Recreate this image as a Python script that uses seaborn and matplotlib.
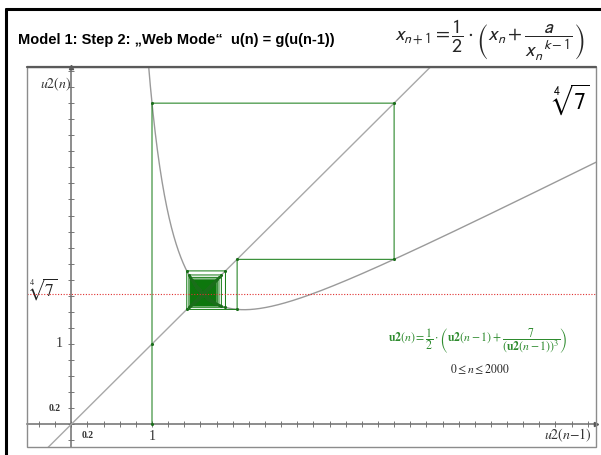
import numpy as np
import pandas as pd
import matplotlib
matplotlib.use("Agg")
import matplotlib.pyplot as plt
from matplotlib.lines import Line2D
from matplotlib.patches import Rectangle
from matplotlib.ticker import MultipleLocator, NullFormatter
import seaborn as sns

sns.set_theme(style="white")
plt.rcParams["font.family"] = ["Liberation Sans", "DejaVu Sans"]

# Iteration u2(n) = 1/2 * (u2(n-1) + a / u2(n-1)^(k-1)), approximating the k-th root of a
radicand = 7
root_k = 4
u_start = 1.0
n_max = 2000

x_range = (-0.549, 6.502)
y_range = (-0.283, 4.450)

x_ticklabels = [0.2, 1]
y_ticklabels = [0.2, 1]


def g(x):
    return 0.5 * (x + radicand / x ** (root_k - 1))


fixed_point = radicand ** (1 / root_k)

# sequence values
u = [u_start]
for _ in range(n_max):
    u.append(g(u[-1]))
u = np.array(u)

# web path: (u0, 0) -> (u0, u0) -> (u0, u1) -> (u1, u1) -> (u1, u2) -> ...
web_x = [u[0], u[0]]
web_y = [0.0, u[0]]
for i in range(1, len(u)):
    web_x += [u[i - 1], u[i]]
    web_y += [u[i], u[i]]
web = pd.DataFrame({"x": web_x, "y": web_y})

curve_x = np.linspace(0.9, 6.7, 800)
curve = pd.DataFrame({"x": curve_x, "y": g(curve_x)})
diag_x = np.array([x_range[0] - 0.1, x_range[1] + 0.1])
diag = pd.DataFrame({"x": diag_x, "y": diag_x})

W, H = 601, 455
fig = plt.figure(figsize=(W / 100, H / 100), dpi=100)
fig.patch.set_facecolor("white")

# slide frame (top and left)
fig.add_artist(Line2D([6 / W, 6 / W], [0, 1 - 9 / H], color="black", lw=2.2, transform=fig.transFigure))
fig.add_artist(Line2D([6 / W, 1], [1 - 9 / H, 1 - 9 / H], color="black", lw=2.2, transform=fig.transFigure))

fig.text(18 / W, 1 - 40 / H, "Model 1: Step 2: \u201eWeb Mode\u201c  u(n) = g(u(n-1))",
         fontsize=10.5, fontweight="bold", va="center", ha="left", color="black")
fig.text(489 / W, 1 - 40 / H,
         r"$x_{n+1}=\dfrac{1}{2}\cdot\left(x_n+\dfrac{a}{x_n^{\ \ k-1}}\right)$",
         fontsize=14.5, ha="center", va="center", math_fontfamily="stixsans")

ax = fig.add_axes([27 / W, (H - 447) / H, 569 / W, 380 / H])
ax.set_xlim(*x_range)
ax.set_ylim(*y_range)
ax.set_facecolor("white")

sns.lineplot(data=curve, x="x", y="y", ax=ax, color="#9a9a9a", lw=1.0, sort=False, estimator=None)
sns.lineplot(data=diag, x="x", y="y", ax=ax, color="#a8a8a8", lw=1.0, sort=False, estimator=None)
sns.lineplot(data=web, x="x", y="y", ax=ax, color="#0d770d", lw=0.7, sort=False, estimator=None)
sns.scatterplot(data=web, x="x", y="y", ax=ax, color="#1a6e1a", s=5, linewidth=0, zorder=4)

ax.axhline(fixed_point, color="#e03030", lw=0.8, ls=(0, (1, 1.5)), zorder=5)

# axes through the origin
for side in ["top", "right"]:
    ax.spines[side].set_visible(False)
ax.spines["left"].set_position(("data", 0))
ax.spines["bottom"].set_position(("data", 0))
for side in ["left", "bottom"]:
    ax.spines[side].set_color("#6e6e6e")
    ax.spines[side].set_linewidth(1.1)
    ax.spines[side].set_zorder(1)
ax.add_patch(Rectangle((0, 0), 1, 1, transform=ax.transAxes, fill=False,
                       edgecolor="#8c8c8c", lw=1.0, zorder=6, clip_on=False))
ax.plot([0, 1], [1, 1], transform=ax.transAxes, color="#5a5a5a", lw=1.6, clip_on=False, zorder=6)

ax.xaxis.set_major_locator(MultipleLocator(0.2))
ax.yaxis.set_major_locator(MultipleLocator(0.2))
ax.xaxis.set_major_formatter(NullFormatter())
ax.yaxis.set_major_formatter(NullFormatter())
ax.tick_params(axis="both", which="major", direction="inout", length=4, width=0.7,
               color="#777777", bottom=True, left=True)
ax.set_xlabel("")
ax.set_ylabel("")

ax.plot(1, 0, ">", color="#555555", ms=3, transform=ax.get_yaxis_transform(), clip_on=False)
ax.plot(0, 1, "^", color="#555555", ms=3, transform=ax.get_xaxis_transform(), clip_on=False)

serif = ["Liberation Serif", "DejaVu Serif"]
ax.annotate("0.2", (x_ticklabels[0], 0), xytext=(0, -5), textcoords="offset points",
            ha="center", va="top", fontsize=7, fontweight="bold", family=serif, color="#333333")
ax.annotate("1", (x_ticklabels[1], 0), xytext=(0, -4), textcoords="offset points",
            ha="center", va="top", fontsize=10, family=serif, color="#333333")
ax.annotate("0.2", (0, y_ticklabels[0]), xytext=(-8, 0), textcoords="offset points",
            ha="right", va="center", fontsize=7, fontweight="bold", family=serif, color="#333333")
ax.annotate("1", (0, y_ticklabels[1]), xytext=(-6, 0), textcoords="offset points",
            ha="right", va="center", fontsize=10, family=serif, color="#333333")
ax.annotate(r"$\sqrt[4]{7}$", (0, fixed_point), xytext=(-10, 3), textcoords="offset points",
            ha="right", va="center", fontsize=12.5, math_fontfamily="stix", color="#222222")

ax.text(0.022, 0.955, r"$u2(n)$", transform=ax.transAxes, ha="left", va="center",
        fontsize=10, math_fontfamily="stix", color="#333333")
ax.text(0.993, 0.03, r"$u2(n{-}1)$", transform=ax.transAxes, ha="right", va="center",
        fontsize=10, math_fontfamily="stix", color="#333333")
ax.text(0.99, 0.913, r"$\sqrt[4]{7}$", transform=ax.transAxes, ha="right", va="center",
        fontsize=17, math_fontfamily="stixsans", color="black")

ax.text(0.793, 0.278,
        r"$\mathbf{u2}(n)=\dfrac{1}{2}\cdot\left(\mathbf{u2}(n-1)+\dfrac{7}{\left(\mathbf{u2}(n-1)\right)^3}\right)$",
        transform=ax.transAxes, ha="center", va="center", fontsize=8.5,
        math_fontfamily="stix", color="#2e8b2e")
ax.text(0.796, 0.205, r"$0 \leq n \leq 2000$", transform=ax.transAxes, ha="center", va="center",
        fontsize=8.5, math_fontfamily="stix", color="#222222")

fig.savefig("out.png", dpi=100)
